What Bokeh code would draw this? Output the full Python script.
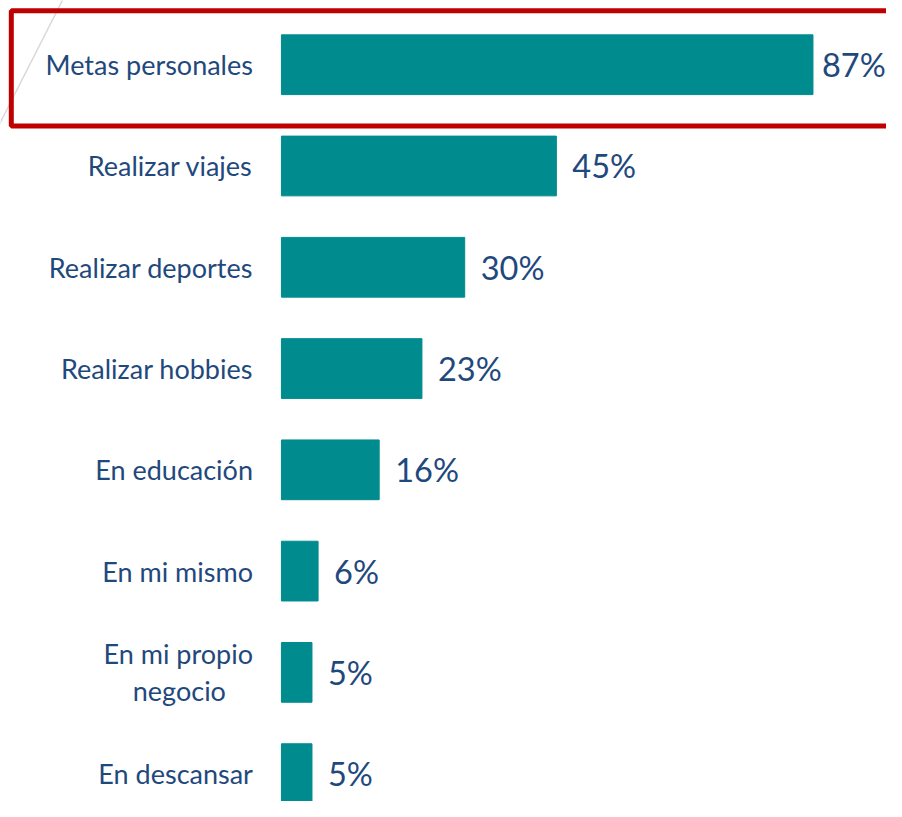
from bokeh.plotting import figure
from bokeh.models import ColumnDataSource, Range1d, BoxAnnotation
from bokeh.core.properties import value
from bokeh.embed import file_html
from bokeh.resources import INLINE

categories = ["Metas personales", "Realizar viajes", "Realizar deportes", "Realizar hobbies",
              "En educación", "En mi mismo", "En mi propio\nnegocio\u2002\u2002", "En descansar"]
values = [87, 45, 30, 23, 16, 6, 5, 5]
labels = [f"{v}%" for v in values]

W, H = 886, 801
SX = W / 902.0
SY = H / 817.0

PX_PER_UNIT = 6.22 * SX        # px per percent
X0_PX = 286 * SX               # bar origin in px
ROW_PX = 103.3 * SY
ROW0_PX = 65.5 * SY

x_start = -X0_PX / PX_PER_UNIT
x_end = x_start + W / PX_PER_UNIT
y_top = -ROW0_PX / ROW_PX
y_bot = y_top + H / ROW_PX

def px_x(px):
    return x_start + px * SX / PX_PER_UNIT

def px_y(px):
    return y_top + px * SY / ROW_PX

idx = list(range(len(categories)))
offsets = [9 if v == max(values) else 16 for v in values]
src = ColumnDataSource(dict(y=idx, v=values, cat=categories, lab=labels, off=offsets))

p = figure(width=W, height=H, output_backend="svg", toolbar_location=None,
           x_range=Range1d(x_start, x_end), y_range=Range1d(y_bot, y_top),
           min_border=0, outline_line_color=None)
p.axis.visible = False
p.grid.visible = False
p.background_fill_color = "white"
p.border_fill_color = "white"

# decorative diagonal line
p.line([px_x(66), px_x(-4)], [px_y(-6), px_y(132)], line_color="#D9D9D9", line_width=1.5)

p.hbar(y="y", right="v", left=0, height=0.59, source=src,
       fill_color="#008C8E", line_color="#008C8E")

text_color = "#1F497D"
p.text(x="v", y="y", text="lab", source=src, x_offset="off",
       text_align="left", text_baseline="middle", text_font=value("Lato"),
       text_font_size="32.5px", text_color=text_color)

p.text(x=px_x(257), y="y", text="cat", source=src,
       text_align="right", text_baseline="middle", text_font=value("Lato"),
       text_font_size="27px", text_color=text_color, text_line_height=1.12)

# red highlight box
box = BoxAnnotation(left=px_x(11), right=px_x(940), top=px_y(10.5), bottom=px_y(128),
                    fill_color=None, fill_alpha=0, line_color="#C00000", line_alpha=1.0,
                    line_width=5)
p.add_layout(box)

open("out.html", "w").write(file_html(p, INLINE))
